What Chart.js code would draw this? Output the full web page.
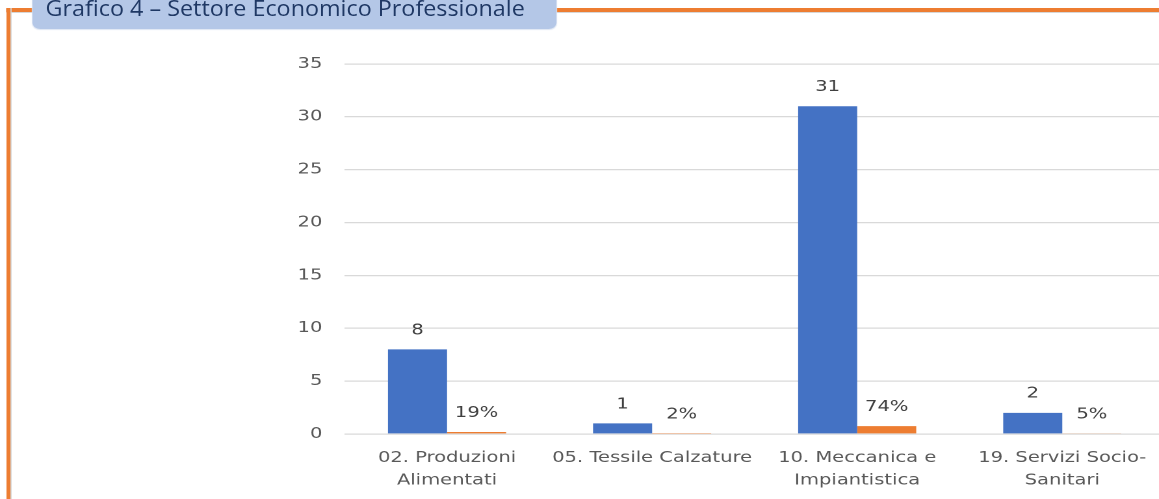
<!DOCTYPE html>
<html>
<head>
<meta charset="utf-8">
<script src="https://cdn.jsdelivr.net/npm/chart.js@4/dist/chart.umd.min.js"></script>
<style>
  html, body { margin: 0; padding: 0; background: #fff; overflow: hidden; width: 1159px; height: 499px; }
  #wrap { position: absolute; left: 0; top: 0; width: 900px; height: 499px; transform: scaleX(1.3); transform-origin: 0 0; }
  #frameTop { position: absolute; left: 4.6px; top: 8px; width: 900px; height: 4px; background: #ED7D31; box-shadow: 0 1px 0 #d6d6d6; }
  #frameLeft { position: absolute; left: 4.6px; top: 8px; width: 3.1px; height: 500px; background: #ED7D31; box-shadow: 1px 0 0 #d6d6d6; }
  #titleBox { position: absolute; left: 25.4px; top: -10px; width: 403px; height: 39px; background: #B4C7E7; border-radius: 0 0 6px 6px; box-shadow: 0 1px 1px #dde5f3; overflow: hidden; }
  #titleText { position: absolute; left: 10px; top: 4px; font-family: "Open Sans", sans-serif; font-size: 21px; color: #1F3864; white-space: nowrap; transform: scaleX(0.855); transform-origin: 0 0; }
  #c { position: absolute; left: 0; top: 0; }
</style>
</head>
<body>
<div id="wrap">
  <div id="frameTop"></div>
  <div id="frameLeft"></div>
  <div id="titleBox"><span id="titleText">Grafico 4 – Settore Economico Professionale</span></div>
  <canvas id="c" width="900" height="499" style="width:900px;height:499px"></canvas>
</div>
<script>
const categories = [
  ["02. Produzioni", "Alimentati"],
  "05. Tessile Calzature",
  ["10. Meccanica e", "Impiantistica"],
  ["19. Servizi Socio-", "Sanitari"]
];
const counts = [8, 1, 31, 2];
const shares = [0.19, 0.02, 0.74, 0.05];
const yTicks = [0, 5, 10, 15, 20, 25, 30, 35];

const FONT = "DejaVu Sans";

const labelPlugin = {
  id: 'valueLabels',
  afterDatasetsDraw(chart) {
    const ctx = chart.ctx;
    ctx.save();
    ctx.font = '15px "' + FONT + '"';
    ctx.fillStyle = '#404040';
    ctx.textAlign = 'center';
    ctx.textBaseline = 'middle';
    chart.data.datasets.forEach((ds, i) => {
      const meta = chart.getDatasetMeta(i);
      meta.data.forEach((el, j) => {
        const v = ds.data[j];
        const txt = i === 0 ? String(v) : Math.round(v * 100) + '%';
        ctx.fillText(txt, el.x, el.y - 19);
      });
    });
    ctx.restore();
  }
};

new Chart(document.getElementById('c'), {
  type: 'bar',
  data: {
    labels: categories,
    datasets: [
      { label: 'N.', data: counts, backgroundColor: '#4472C4', categoryPercentage: 0.576, barPercentage: 1 },
      { label: '%', data: shares, backgroundColor: '#ED7D31', categoryPercentage: 0.576, barPercentage: 1 }
    ]
  },
  options: {
    responsive: false,
    animation: false,
    devicePixelRatio: 2,
    layout: { padding: { top: 64, right: 4, left: 0, bottom: 0 } },
    plugins: { legend: { display: false }, tooltip: { enabled: false } },
    scales: {
      y: {
        min: 0, max: 35,
        afterFit: s => { s.width = 265; },
        afterBuildTicks: s => { s.ticks = yTicks.map(v => ({ value: v })); },
        grid: { color: '#d9d9d9', lineWidth: 1.3, drawTicks: false },
        border: { display: false },
        ticks: { color: '#595959', font: { family: FONT, size: 15 }, padding: 17 }
      },
      x: {
        afterFit: s => { s.height = 65; },
        grid: { display: false, drawTicks: false },
        border: { display: false },
        ticks: { color: '#595959', font: { family: FONT, size: 15, lineHeight: 1.5 }, padding: 13, maxRotation: 0, autoSkip: false }
      }
    }
  },
  plugins: [labelPlugin]
});
</script>
</body>
</html>
